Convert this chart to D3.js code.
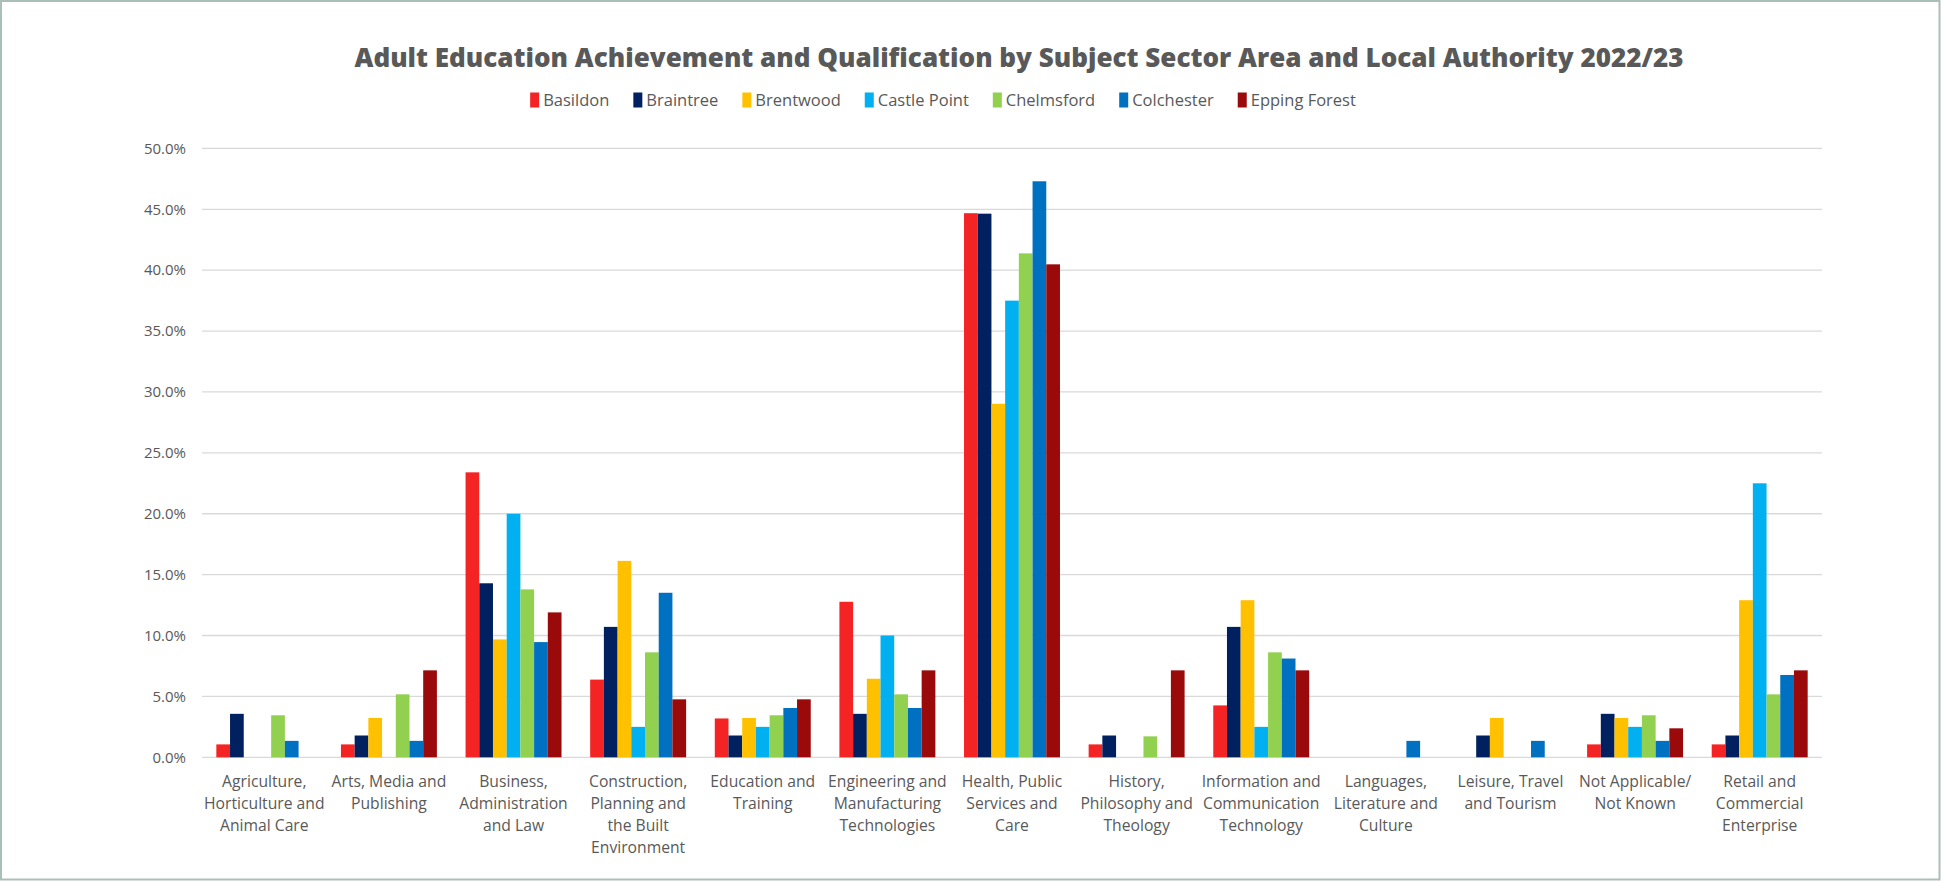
<!DOCTYPE html>
<html>
<head>
<meta charset="utf-8">
<script src="https://cdnjs.cloudflare.com/ajax/libs/d3/7.8.5/d3.min.js"></script>
<style>
  html, body { margin: 0; padding: 0; background: #fff; }
  svg { display: block; }
  text { font-family: "Open Sans", "DejaVu Sans", sans-serif; fill: #595959; }
</style>
</head>
<body>
<svg id="chart" width="1941" height="881"></svg>
<script>
// categories (tick labels, already split in lines as in the original)
const categories = [
  "Agriculture, Horticulture and Animal Care",
  "Arts, Media and Publishing",
  "Business, Administration and Law",
  "Construction, Planning and the Built Environment",
  "Education and Training",
  "Engineering and Manufacturing Technologies",
  "Health, Public Services and Care",
  "History, Philosophy and Theology",
  "Information and Communication Technology",
  "Languages, Literature and Culture",
  "Leisure, Travel and Tourism",
  "Not Applicable/ Not Known",
  "Retail and Commercial Enterprise"
];
const categoryLines = [
  ["Agriculture,", "Horticulture and", "Animal Care"],
  ["Arts, Media and", "Publishing"],
  ["Business,", "Administration", "and Law"],
  ["Construction,", "Planning and", "the Built", "Environment"],
  ["Education and", "Training"],
  ["Engineering and", "Manufacturing", "Technologies"],
  ["Health, Public", "Services and", "Care"],
  ["History,", "Philosophy and", "Theology"],
  ["Information and", "Communication", "Technology"],
  ["Languages,", "Literature and", "Culture"],
  ["Leisure, Travel", "and Tourism"],
  ["Not Applicable/", "Not Known"],
  ["Retail and", "Commercial", "Enterprise"]
];

const series = ["Basildon", "Braintree", "Brentwood", "Castle Point", "Chelmsford", "Colchester", "Epping Forest"];
const colors = ["#f42424", "#002060", "#ffc000", "#00b0f0", "#92d050", "#0070c0", "#9b0a0a"];

// percentages, same order as categories
const basildon    = [1.06, 1.06, 23.40, 6.38, 3.19, 12.77, 44.68, 1.06, 4.26, 0, 0, 1.06, 1.06];
const braintree   = [3.57, 1.79, 14.29, 10.71, 1.79, 3.57, 44.64, 1.79, 10.71, 0, 1.79, 3.57, 1.79];
const brentwood   = [0, 3.23, 9.68, 16.13, 3.23, 6.45, 29.03, 0, 12.90, 0, 3.23, 3.23, 12.90];
const castlePoint = [0, 0, 20.00, 2.50, 2.50, 10.00, 37.50, 0, 2.50, 0, 0, 2.50, 22.50];
const chelmsford  = [3.45, 5.17, 13.79, 8.62, 3.45, 5.17, 41.38, 1.72, 8.62, 0, 0, 3.45, 5.17];
const colchester  = [1.35, 1.35, 9.46, 13.51, 4.05, 4.05, 47.30, 0, 8.11, 1.35, 1.35, 1.35, 6.76];
const eppingForest= [0, 7.14, 11.90, 4.76, 4.76, 7.14, 40.48, 7.14, 7.14, 0, 0, 2.38, 7.14];

const yTicks = [0, 5, 10, 15, 20, 25, 30, 35, 40, 45, 50];

const values = [basildon, braintree, brentwood, castlePoint, chelmsford, colchester, eppingForest];

const svg = d3.select("#chart");
const width = +svg.attr("width");
const height = +svg.attr("height");

// outer frame
svg.append("rect")
  .attr("x", 1).attr("y", 1)
  .attr("width", width - 2.5).attr("height", height - 2.5)
  .attr("fill", "#fff")
  .attr("stroke", "#a9bfb8")
  .attr("stroke-width", 2);

const plot = { left: 202, right: 1822, top: 148.4, bottom: 757.3 };

const x0 = d3.scaleBand()
  .domain(categories)
  .range([plot.left, plot.right])
  .paddingInner(0.23)
  .paddingOuter(0.115);

const x1 = d3.scaleBand()
  .domain(series)
  .range([0, x0.bandwidth()]);

const y = d3.scaleLinear()
  .domain([0, 50])
  .range([plot.bottom, plot.top]);

// gridlines
svg.append("g")
  .selectAll("line")
  .data(yTicks)
  .join("line")
    .attr("x1", plot.left)
    .attr("x2", plot.right)
    .attr("y1", d => y(d))
    .attr("y2", d => y(d))
    .attr("stroke", "#d9d9d9")
    .attr("stroke-width", 1.3);

// y axis labels
const yAxis = d3.axisLeft(y)
  .tickValues(yTicks)
  .tickSize(0)
  .tickPadding(16)
  .tickFormat(d => d.toFixed(1) + "%");

const yAxisG = svg.append("g")
  .attr("transform", `translate(${plot.left},0)`)
  .call(yAxis);
yAxisG.select(".domain").remove();
yAxisG.selectAll("text")
  .style("font-family", '"Open Sans", sans-serif')
  .style("font-size", "15px")
  .attr("fill", "#595959");

// bars
const groups = svg.append("g")
  .selectAll("g")
  .data(categories)
  .join("g")
    .attr("transform", d => `translate(${x0(d)},0)`);

groups.selectAll("rect")
  .data((c, i) => series.map((s, j) => ({ s, j, v: values[j][i] })).filter(d => d.v > 0))
  .join("rect")
    .attr("x", d => x1(d.s))
    .attr("y", d => y(d.v))
    .attr("width", x1.bandwidth())
    .attr("height", d => y(0) - y(d.v))
    .attr("fill", d => colors[d.j]);

// x axis labels
const xAxis = d3.axisBottom(x0).tickSize(0).tickFormat("");
const xAxisG = svg.append("g")
  .attr("transform", `translate(0,${plot.bottom})`)
  .call(xAxis);
xAxisG.select(".domain").remove();

const labels = svg.append("g")
  .selectAll("text")
  .data(categories)
  .join("text")
    .attr("text-anchor", "middle")
    .attr("x", d => x0(d) + x0.bandwidth() / 2)
    .attr("y", plot.bottom + 30)
    .style("font-size", "15.7px");

labels.selectAll("tspan")
  .data((d, i) => categoryLines[i])
  .join("tspan")
    .attr("x", function() { return d3.select(this.parentNode).attr("x"); })
    .attr("dy", (d, i) => i === 0 ? 0 : 22)
    .text(d => d);

// title
const title = svg.append("text")
  .attr("x", 1019)
  .attr("y", 67)
  .attr("text-anchor", "middle")
  .style("font-weight", 800)
  .style("font-size", "25px")
  .text("Adult Education Achievement and Qualification by Subject Sector Area and Local Authority 2022/23");
const tw = title.node().getComputedTextLength();
title.style("font-size", (25 * 1329 / tw).toFixed(2) + "px");

// legend
const legend = svg.append("g").attr("transform", "translate(0,100)");
let lx = 0;
const items = [];
series.forEach((s, i) => {
  const g = legend.append("g");
  g.append("rect")
    .attr("x", 0).attr("y", -7.5)
    .attr("width", 9).attr("height", 15)
    .attr("fill", colors[i]);
  const t = g.append("text")
    .attr("x", 13).attr("y", 6)
    .style("font-size", "16.5px")
    .text(s);
  items.push({ g, w: 13 + t.node().getComputedTextLength() });
});
const gap = 24;
const total = d3.sum(items, d => d.w) + gap * (items.length - 1);
lx = 943 - total / 2;
items.forEach(it => {
  it.g.attr("transform", `translate(${lx},0)`);
  lx += it.w + gap;
});
</script>
</body>
</html>
